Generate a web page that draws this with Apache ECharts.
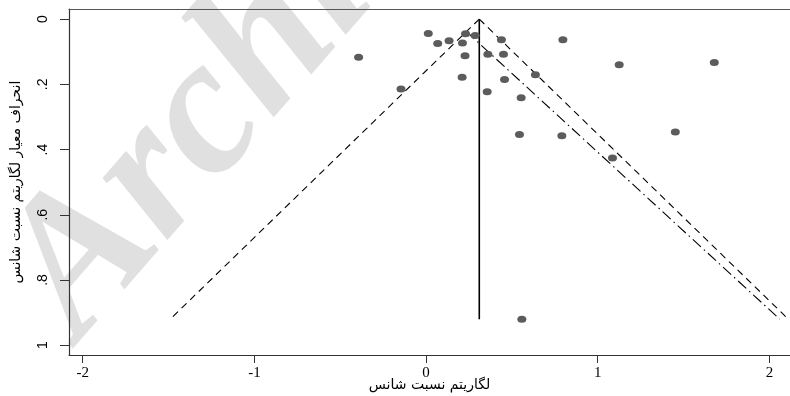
<!DOCTYPE html>
<html><head><meta charset="utf-8">
<script src="https://cdn.jsdelivr.net/npm/echarts@6/dist/echarts.min.js"></script>
<style>html,body{margin:0;padding:0;background:#fff}#c{width:790px;height:396px}</style>
</head><body><div id="c"></div>
<script>
// study points: log odds ratio (x) and standard error (y)
const studyLogOR = [0.013,0.068,0.134,0.212,0.23,0.286,0.227,-0.393,0.439,0.36,0.451,0.21,0.457,0.637,-0.146,0.356,0.554,0.797,1.125,1.679,1.452,1.086,0.791,0.544,0.558];
const studySE    = [0.044,0.075,0.066,0.073,0.045,0.05,0.112,0.117,0.063,0.108,0.108,0.178,0.185,0.171,0.214,0.223,0.241,0.063,0.14,0.133,0.346,0.426,0.358,0.354,0.92];
// pooled estimate and funnel limits
const pooledX = [0.31, 0.31];
const pooledSE = [0, 0.92];
const leftLimitX = [0.31, -1.49];
const rightLimitX = [0.31, 2.11];
const limitSE = [0, 0.92];
const regLineX = [0.234, 2.06];
const regLineSE = [0.038, 0.92];
// ticks
const xTicks = [-2, -1, 0, 1, 2];
const xTickLabels = ['-2', '-1', '0', '1', '2'];
const yTicks = [0, 0.2, 0.4, 0.6, 0.8, 1];
const yTickLabels = ['0', '.2', '.4', '.6', '.8', '1'];
const xTitle = 'لگاریتم نسبت شانس';
const yTitle = 'انحراف معیار لگاریتم نسبت شانس';

const zip = (a, b) => a.map((v, i) => [v, b[i]]);
const chart = echarts.init(document.getElementById('c'));
chart.setOption({
  animation: false,
  backgroundColor: '#fff',
  graphic: [{
    type: 'text', z: -10,
    x: 115, y: 372, rotation: 49 * Math.PI / 180,
    style: { text: 'Archive', font: 'italic bold 195px "Liberation Serif"', fill: '#e0e0e0', textAlign: 'left', textVerticalAlign: 'bottom' }
  }],
  grid: { left: 69, right: 0, top: 9, bottom: 41, outerBoundsMode: 'none', containLabel: false },
  xAxis: [{
    type: 'value', min: -2.08, max: 2.12,
    name: xTitle, nameLocation: 'middle', nameGap: 23, nameMoveOverlap: false,
    nameTextStyle: { fontFamily: 'DejaVu Sans', fontSize: 14, color: '#000' },
    axisLine: { onZero: false, lineStyle: { color: '#333', width: 1.2 } },
    axisTick: { show: true, length: 8, customValues: xTicks, lineStyle: { color: '#333' } },
    axisLabel: { customValues: xTicks, margin: 11, formatter: v => xTickLabels[xTicks.indexOf(v)] ?? '', fontFamily: 'Liberation Serif', fontSize: 15, color: '#000' },
    splitLine: { show: false }
  }, {
    type: 'value', position: 'top', min: -2.08, max: 2.12,
    axisLine: { show: true, onZero: false, lineStyle: { color: '#555', width: 1.2 } },
    axisTick: { show: false }, axisLabel: { show: false }, splitLine: { show: false }
  }],
  yAxis: {
    type: 'value', inverse: true, min: -0.031, max: 1.03,
    name: yTitle, nameLocation: 'middle', nameGap: 46, nameRotate: 90, nameMoveOverlap: false,
    nameTextStyle: { fontFamily: 'DejaVu Sans', fontSize: 14, color: '#000' },
    axisLine: { onZero: false, lineStyle: { color: '#333', width: 1.2 } },
    axisTick: { show: true, length: 9, customValues: yTicks, lineStyle: { color: '#333' } },
    axisLabel: { customValues: yTicks, rotate: 90, margin: 19, formatter: v => yTickLabels[yTicks.findIndex(t => Math.abs(t - v) < 1e-6)] ?? '', fontFamily: 'Liberation Sans', fontSize: 14, color: '#000' },
    splitLine: { show: false }
  },
  series: [
    { type: 'line', data: zip(pooledX, pooledSE), symbol: 'none', lineStyle: { color: '#000', width: 1.6 }, z: 3 },
    { type: 'line', data: zip(leftLimitX, limitSE), symbol: 'none', lineStyle: { color: '#000', width: 1.1, type: [7, 5] }, z: 3 },
    { type: 'line', data: zip(rightLimitX, limitSE), symbol: 'none', lineStyle: { color: '#000', width: 1.1, type: [7, 5] }, z: 3 },
    { type: 'line', data: zip(regLineX, regLineSE), symbol: 'none', lineStyle: { color: '#000', width: 1.1, type: [11, 4, 1.5, 4] }, z: 3 },
    { type: 'scatter', data: zip(studyLogOR, studySE), symbol: 'circle', symbolSize: [9, 7], itemStyle: { color: '#5c5c5c', opacity: 1 }, z: 4 }
  ]
});
</script></body></html>
